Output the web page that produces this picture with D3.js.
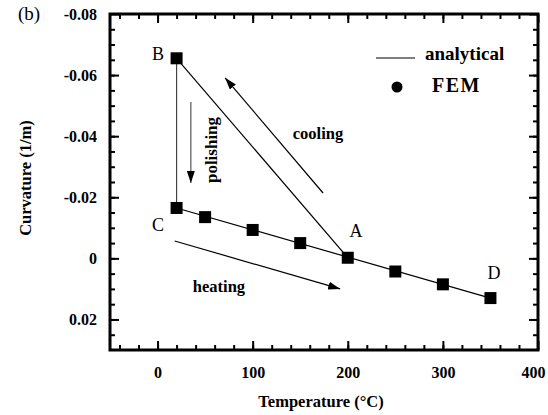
<!DOCTYPE html>
<html>
<head>
<meta charset="utf-8">
<script src="https://cdn.jsdelivr.net/npm/d3@7"></script>
<style>
  body { margin: 0; background: #fff; }
  text { font-family: "Liberation Serif", "Times New Roman", serif; }
</style>
</head>
<body>
<svg id="vis"></svg>
<script>
// FEM points (temperature in C, curvature in 1/m)
var femTemp = [20, 20, 50, 100, 150, 200, 250, 300, 350];
var femCurv = [-0.0655, -0.0165, -0.0135, -0.0093, -0.005, -0.0002, 0.0043, 0.0085, 0.013];

// analytical lines: B->A, B->C, C->D
var analyticalTemp = [[20, 200], [20, 20], [20, 350]];
var analyticalCurv = [[-0.0655, -0.0002], [-0.0655, -0.0165], [-0.0165, 0.013]];

var xTicks = [0, 100, 200, 300, 400];
var yTicks = [-0.08, -0.06, -0.04, -0.02, 0, 0.02];

var W = 548, H = 415;
var svg = d3.select("svg#vis").attr("width", W).attr("height", H);
svg.append("rect").attr("width", W).attr("height", H).attr("fill", "#fff");

var x = d3.scaleLinear().domain([-50, 400]).range([110, 538]);
var y = d3.scaleLinear().domain([-0.08, 0.03]).range([14, 350]);

var defs = svg.append("defs");
defs.append("marker")
  .attr("id", "head")
  .attr("viewBox", "0 0 12 8")
  .attr("refX", 12).attr("refY", 4)
  .attr("markerWidth", 12).attr("markerHeight", 8)
  .attr("markerUnits", "userSpaceOnUse")
  .attr("orient", "auto")
  .append("path").attr("d", "M0,0 L12,4 L0,8 Z").attr("fill", "#000");

// minor ticks
var xMinor = d3.range(-40, 400, 20);
var yMinor = d3.range(-0.075, 0.03, 0.005);

function tickLayer(axis, tr, size, vals) {
  svg.append("g").attr("transform", tr)
    .call(axis.tickValues(vals).tickSize(size).tickFormat(""))
    .call(function(g) { g.select(".domain").remove(); g.selectAll("line").attr("stroke", "#000").attr("stroke-width", 2); });
}
tickLayer(d3.axisBottom(x), "translate(0,350)", -5, xMinor);
tickLayer(d3.axisTop(x), "translate(0,14)", -5, xMinor);
tickLayer(d3.axisLeft(y), "translate(110,0)", -5, yMinor);
tickLayer(d3.axisRight(y), "translate(538,0)", -5, yMinor);
tickLayer(d3.axisTop(x), "translate(0,14)", -9, xTicks);
tickLayer(d3.axisRight(y), "translate(538,0)", -9, yTicks);

// labelled axes (hyphen instead of unicode minus, as in the original)
var xAxis = svg.append("g").attr("transform", "translate(0,350)")
  .call(d3.axisBottom(x).tickValues(xTicks).tickSize(-9).tickPadding(17).tickFormat(d3.format("d")));
var yAxis = svg.append("g").attr("transform", "translate(110,0)")
  .call(d3.axisLeft(y).tickValues(yTicks).tickSize(-9).tickPadding(13)
    .tickFormat(function(d) { return d === 0 ? "0" : d3.format(".2f")(d).replace("\u2212", "-"); }));
[xAxis, yAxis].forEach(function(g) {
  g.select(".domain").remove();
  g.selectAll("line").attr("stroke", "#000").attr("stroke-width", 2);
  g.selectAll("text").attr("fill", "#000")
    .style("font-family", "'Liberation Serif', serif")
    .style("font-weight", "bold").style("font-size", "16px");
});
xAxis.selectAll("text").filter(function(d) { return d === 400; }).attr("dx", -5);

// frame
svg.append("rect").attr("x", 110).attr("y", 14).attr("width", 428).attr("height", 336)
  .attr("fill", "none").attr("stroke", "#000").attr("stroke-width", 3);

// analytical lines
analyticalTemp.forEach(function(t, i) {
  svg.append("line")
    .attr("x1", x(t[0])).attr("y1", y(analyticalCurv[i][0]))
    .attr("x2", x(t[1])).attr("y2", y(analyticalCurv[i][1]))
    .attr("stroke", i === 1 ? "#444" : "#000").attr("stroke-width", 1.2);
});

// FEM squares
var s = 12;
svg.selectAll("rect.fem").data(femTemp).enter().append("rect")
  .attr("class", "fem")
  .attr("x", function(d) { return x(d) - s / 2; })
  .attr("y", function(d, i) { return y(femCurv[i]) - s / 2; })
  .attr("width", s).attr("height", s).attr("fill", "#000");

// process arrows
function arrow(t1, c1, t2, c2, col) {
  svg.append("line")
    .attr("x1", x(t1)).attr("y1", y(c1)).attr("x2", x(t2)).attr("y2", y(c2))
    .attr("stroke", col).attr("stroke-width", 1.2).attr("marker-end", "url(#head)");
}
arrow(35, -0.0512, 35, -0.0247, "#555");
arrow(174, -0.0214, 71, -0.0591, "#000");
arrow(18, -0.0057, 192, 0.0100, "#000");

// annotation text
function label(tx, px, py, bold, size, anchor) {
  return svg.append("text").text(tx).attr("x", px).attr("y", py)
    .attr("text-anchor", anchor || "middle").attr("dominant-baseline", "middle")
    .style("font-weight", bold ? "bold" : "normal").style("font-size", size + "px");
}
label("(b)", 29, 16, false, 19);
label("B", 158, 56, false, 18);
label("C", 158, 227, false, 18);
label("A", 356, 233, false, 18);
label("D", 494, 275, false, 18);
label("cooling", 318, 135, true, 16.5);
label("heating", 219, 288, true, 16.5);
label("polishing", 0, 0, true, 17).attr("transform", "translate(213,150) rotate(-90)");

// legend
svg.append("line").attr("x1", 376).attr("x2", 415).attr("y1", 58).attr("y2", 58)
  .attr("stroke", "#000").attr("stroke-width", 1.2);
label("analytical", 425, 56, true, 19, "start");
svg.append("circle").attr("cx", 397).attr("cy", 87).attr("r", 5.5).attr("fill", "#000");
label("FEM", 432, 87, true, 20, "start").style("letter-spacing", "1.5px");

// axis titles
label("Temperature (\u00B0C)", 321, 403, true, 16.5);
label("Curvature (1/m)", 0, 0, true, 16.5).attr("transform", "translate(27,178) rotate(-90)");
</script>
</body>
</html>
